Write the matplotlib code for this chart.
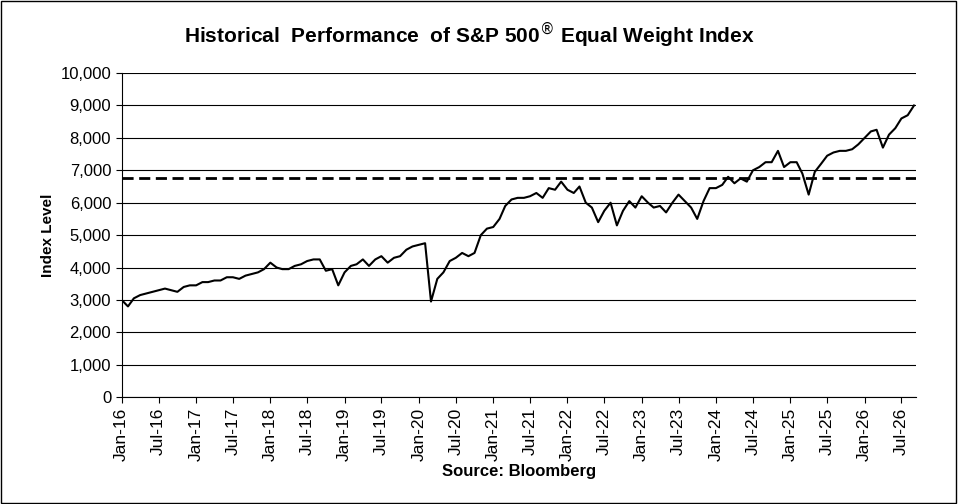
import numpy as np
import pandas as pd
import matplotlib
matplotlib.use("Agg")
import matplotlib.pyplot as plt
import matplotlib.dates as mdates
from matplotlib.ticker import FuncFormatter

plt.rcParams['font.family'] = ['Liberation Sans', 'DejaVu Sans']

# monthly index levels, Jan-16 .. Sep-26
levels = [
    3000, 2800, 3050, 3150, 3200, 3250, 3300, 3350, 3300, 3250, 3400, 3450,
    3450, 3550, 3550, 3600, 3600, 3700, 3700, 3650, 3750, 3800, 3850, 3950,
    4150, 4000, 3950, 3950, 4050, 4100, 4200, 4250, 4250, 3900, 3950, 3450,
    3850, 4050, 4100, 4250, 4050, 4250, 4350, 4150, 4300, 4350, 4550, 4650,
    4700, 4750, 2950, 3650, 3850, 4200, 4300, 4450, 4350, 4450, 5000, 5200,
    5250, 5500, 5900, 6100, 6150, 6150, 6200, 6300, 6150, 6450, 6400, 6650,
    6400, 6300, 6500, 6000, 5850, 5400, 5750, 6000, 5300, 5750, 6050, 5850,
    6200, 6000, 5850, 5900, 5700, 6000, 6250, 6050, 5850, 5500, 6050, 6450,
    6450, 6550, 6800, 6600, 6750, 6650, 7000, 7100, 7250, 7250, 7600, 7100,
    7250, 7250, 6900, 6250, 6950, 7200, 7450, 7550, 7600, 7600, 7650, 7800,
    8000, 8200, 8250, 7700, 8100, 8300, 8600, 8700, 9000,
]
dates = pd.date_range("2016-01-01", periods=len(levels), freq="MS")
average_level = 6750

fig = plt.figure(figsize=(9.58, 5.04), dpi=100)
ax = fig.add_axes([0.127, 0.212, 0.829, 0.643])
fig.patches.append(plt.Rectangle((0.001, 0.001), 0.997, 0.997, transform=fig.transFigure,
                                 fill=False, edgecolor='black', linewidth=1))

ax.plot(dates, levels, color='black', linewidth=1.5)
ax.axhline(average_level, color='black', linestyle=(0, (4, 2)), linewidth=2)

ax.set_ylim(0, 10000)
ax.set_yticks(np.arange(0, 10001, 1000))
ax.yaxis.set_major_formatter(FuncFormatter(lambda v, p: f"{int(v):,}"))
ax.grid(axis='y', color='black', linewidth=0.8)
ax.set_axisbelow(True)

ax.set_xlim(pd.Timestamp("2016-01-01"), pd.Timestamp("2026-09-10"))
ax.xaxis.set_major_locator(mdates.MonthLocator(bymonth=[1, 7]))
ax.xaxis.set_major_formatter(mdates.DateFormatter("%b-%y"))
plt.setp(ax.get_xticklabels(), rotation=90)

for s in ['top', 'right']:
    ax.spines[s].set_visible(False)
ax.tick_params(labelsize=12, length=4)
ax.tick_params(axis='x', labelsize=12.5)
ax.set_ylabel("Index Level", fontsize=11, fontweight='bold')
ax.set_xlabel("Source: Bloomberg", fontsize=12, fontweight='bold', labelpad=2)
fig.text(0.49, 0.93, "Historical  Performance  of S&P 500$^{\u00ae}$ Equal Weight Index",
         ha='center', va='center', fontsize=15, fontweight='bold')

fig.savefig("out.png", dpi=100)
